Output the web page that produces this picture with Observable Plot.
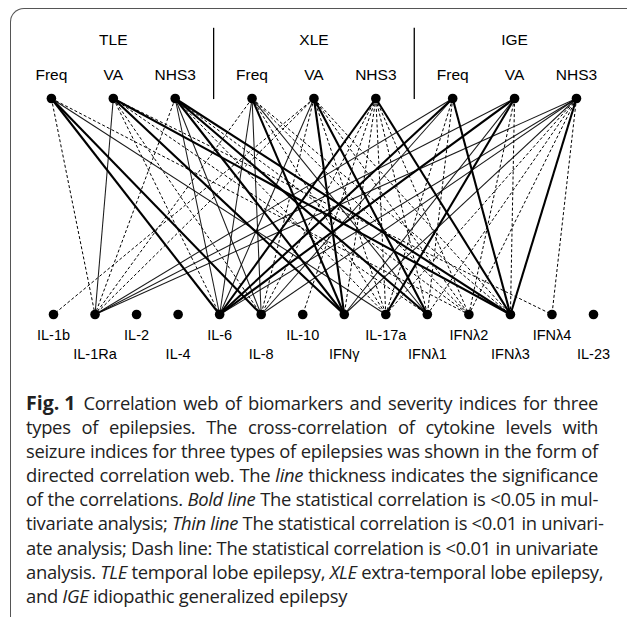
<!DOCTYPE html>
<html>
<head>
<meta charset="utf-8">
<script src="https://cdn.jsdelivr.net/npm/d3@7"></script>
<script src="https://cdn.jsdelivr.net/npm/@observablehq/plot@0.6"></script>
<style>
  html, body { margin: 0; padding: 0; background: #fff; }
  body { width: 627px; height: 617px; overflow: hidden; position: relative; }
  #frame { position: absolute; left: 10px; top: 8px; width: 700px; height: 700px;
           border-top: 1.6px solid #555; border-left: 1.6px solid #555; border-top-left-radius: 14px; }
  #chart { position: absolute; left: 0; top: 0; }
  #caption { position: absolute; left: 26px; top: 391px; width: 572px;
             font-family: "Open Sans", "Noto Sans", sans-serif; font-size: 18.4px; line-height: 24.1px; color: #222; letter-spacing: -0.3px; }
  #caption div { white-space: nowrap; text-align: justify; text-align-last: justify; }
  #caption div.last { text-align-last: left; }
  #caption span.fig { display: inline-block; font-size: 19.5px; font-weight: 700; margin-right: 8px; letter-spacing: 0; }
</style>
</head>
<body>
<div id="frame"></div>
<div id="chart"></div>
<div id="caption"></div>
<script>
// ---- data ----
const groups = ["TLE", "XLE", "IGE"];
const indices = ["Freq", "VA", "NHS3"];
const cytokines = ["IL-1b", "IL-1Ra", "IL-2", "IL-4", "IL-6", "IL-8", "IL-10", "IFNγ",
                   "IL-17a", "IFNλ1", "IFNλ2", "IFNλ3", "IFNλ4", "IL-23"];
const styles = ["bold", "thin", "dash"];
// [group, index, cytokine, style]
const edges = [
  ["TLE","Freq","IL-1Ra","dash"], ["TLE","Freq","IL-6","bold"], ["TLE","Freq","IL-8","bold"],
  ["TLE","Freq","IL-17a","thin"], ["TLE","Freq","IFNλ2","dash"],
  ["TLE","VA","IL-1Ra","thin"], ["TLE","VA","IL-6","dash"], ["TLE","VA","IL-8","dash"],
  ["TLE","VA","IFNγ","bold"], ["TLE","VA","IFNλ1","dash"], ["TLE","VA","IFNλ3","bold"],
  ["TLE","VA","IFNλ4","dash"],
  ["TLE","NHS3","IL-1Ra","dash"], ["TLE","NHS3","IL-6","thin"], ["TLE","NHS3","IL-8","thin"],
  ["TLE","NHS3","IFNγ","bold"], ["TLE","NHS3","IL-17a","dash"], ["TLE","NHS3","IFNλ1","bold"],
  ["TLE","NHS3","IFNλ3","bold"], ["TLE","NHS3","IFNλ2","dash"],
  ["XLE","Freq","IL-1Ra","dash"], ["XLE","Freq","IL-6","thin"], ["XLE","Freq","IL-8","thin"],
  ["XLE","Freq","IFNγ","bold"], ["XLE","Freq","IL-17a","dash"], ["XLE","Freq","IFNλ1","thin"],
  ["XLE","Freq","IFNλ2","dash"], ["XLE","Freq","IFNλ3","dash"],
  ["XLE","VA","IL-1b","dash"], ["XLE","VA","IL-1Ra","dash"], ["XLE","VA","IL-6","thin"],
  ["XLE","VA","IL-8","dash"], ["XLE","VA","IFNγ","bold"], ["XLE","VA","IL-17a","dash"],
  ["XLE","VA","IFNλ1","bold"], ["XLE","VA","IFNλ2","dash"], ["XLE","VA","IFNλ3","dash"],
  ["XLE","NHS3","IL-6","bold"], ["XLE","NHS3","IL-8","dash"], ["XLE","NHS3","IFNγ","dash"],
  ["XLE","NHS3","IL-17a","dash"], ["XLE","NHS3","IFNλ1","dash"], ["XLE","NHS3","IFNλ2","dash"],
  ["XLE","NHS3","IFNλ3","bold"], ["XLE","NHS3","IL-10","dash"],
  ["IGE","Freq","IL-6","bold"], ["IGE","Freq","IL-8","thin"], ["IGE","Freq","IL-17a","dash"],
  ["IGE","Freq","IFNλ3","bold"], ["IGE","Freq","IL-1Ra","thin"], ["IGE","Freq","IFNλ1","dash"],
  ["IGE","VA","IL-1Ra","thin"], ["IGE","VA","IL-6","bold"], ["IGE","VA","IFNγ","thin"],
  ["IGE","VA","IL-17a","bold"], ["IGE","VA","IFNλ2","dash"], ["IGE","VA","IFNλ3","dash"],
  ["IGE","NHS3","IL-1Ra","thin"], ["IGE","NHS3","IL-6","thin"], ["IGE","NHS3","IL-8","thin"],
  ["IGE","NHS3","IFNγ","thin"], ["IGE","NHS3","IL-17a","dash"], ["IGE","NHS3","IFNλ1","dash"],
  ["IGE","NHS3","IFNλ2","dash"], ["IGE","NHS3","IFNλ3","bold"], ["IGE","NHS3","IFNλ4","dash"]
];
const captionLines = [
  "<span class='fig'>Fig. 1</span>Correlation web of biomarkers and severity indices for three",
  "types of epilepsies. The cross-correlation of cytokine levels with",
  "seizure indices for three types of epilepsies was shown in the form of",
  "directed correlation web. The <i>line</i> thickness indicates the significance",
  "of the correlations. <i>Bold line</i> The statistical correlation is &lt;0.05 in mul-",
  "tivariate analysis; <i>Thin line</i> The statistical correlation is &lt;0.01 in univari-",
  "ate analysis; Dash line: The statistical correlation is &lt;0.01 in univariate",
  "analysis. <i>TLE</i> temporal lobe epilepsy, <i>XLE</i> extra-temporal lobe epilepsy,",
  "and <i>IGE</i> idiopathic generalized epilepsy"
];

// ---- layout (in units of the cytokine spacing) ----
const NODE_STEP = 1.49, GROUP_GAP = 0.36, TOP_OFFSET = -0.05;
const topPos = (g, i) => groups.indexOf(g) * (3 * NODE_STEP + GROUP_GAP) + indices.indexOf(i) * NODE_STEP + TOP_OFFSET;
const botPos = c => cytokines.indexOf(c);

const topNodes = groups.flatMap(g => indices.map(i => ({g, i, x: topPos(g, i)})));
const botNodes = cytokines.map((c, k) => ({c, k, x: botPos(c)}));
const links = edges.map(([g, i, c, s]) => ({x1: topPos(g, i), x2: botPos(c), s}));
const dividers = [1, 2].map(k => (topPos(groups[k - 1], "NHS3") + topPos(groups[k], "Freq")) / 2);

const strokeW = {bold: 2.1, thin: 1.05, dash: 1};
const font = "Liberation Sans, Arial, Helvetica, sans-serif";

const chart = Plot.plot({
  width: 627, height: 385,
  margin: 0,
  x: {type: "linear", domain: [0, 13], range: [53, 593], axis: null},
  y: {type: "linear", domain: [0, 1], range: [314, 98], axis: null},
  style: {fontFamily: font, background: "transparent"},
  marks: [
    ...styles.map(s => Plot.link(links.filter(d => d.s === s), {
      x1: "x1", y1: 1, x2: "x2", y2: 0,
      stroke: "#000", strokeWidth: strokeW[s],
      strokeDasharray: s === "dash" ? "3,2.2" : null,
      strokeOpacity: s === "thin" ? 0.9 : 1
    })),
    Plot.ruleX(dividers, {x: d => d, y1: 0.995, y2: 1.325, stroke: "#000", strokeWidth: 1.3}),
    Plot.dot(topNodes, {x: "x", y: 1, r: 4.8, fill: "#000"}),
    Plot.dot(botNodes, {x: "x", y: 0, r: 4.8, fill: "#000"}),
    Plot.text(topNodes, {x: "x", y: 1, text: "i", dy: -23, fontSize: 15.5, fill: "#000"}),
    Plot.text(groups, {x: g => topPos(g, "VA"), y: 1, text: d => d, dy: -58, fontSize: 15.5, fill: "#000"}),
    Plot.text(botNodes.filter(d => d.k % 2 === 0), {x: "x", y: 0, text: "c", dy: 21, fontSize: 14.5, fill: "#000"}),
    Plot.text(botNodes.filter(d => d.k % 2 === 1), {x: "x", y: 0, text: "c", dy: 40, fontSize: 14.5, fill: "#000"})
  ]
});
document.getElementById("chart").appendChild(chart);

document.getElementById("caption").innerHTML = captionLines
  .map((t, k) => `<div class="${k === captionLines.length - 1 ? "last" : ""}">${t}</div>`)
  .join("");
</script>
</body>
</html>
